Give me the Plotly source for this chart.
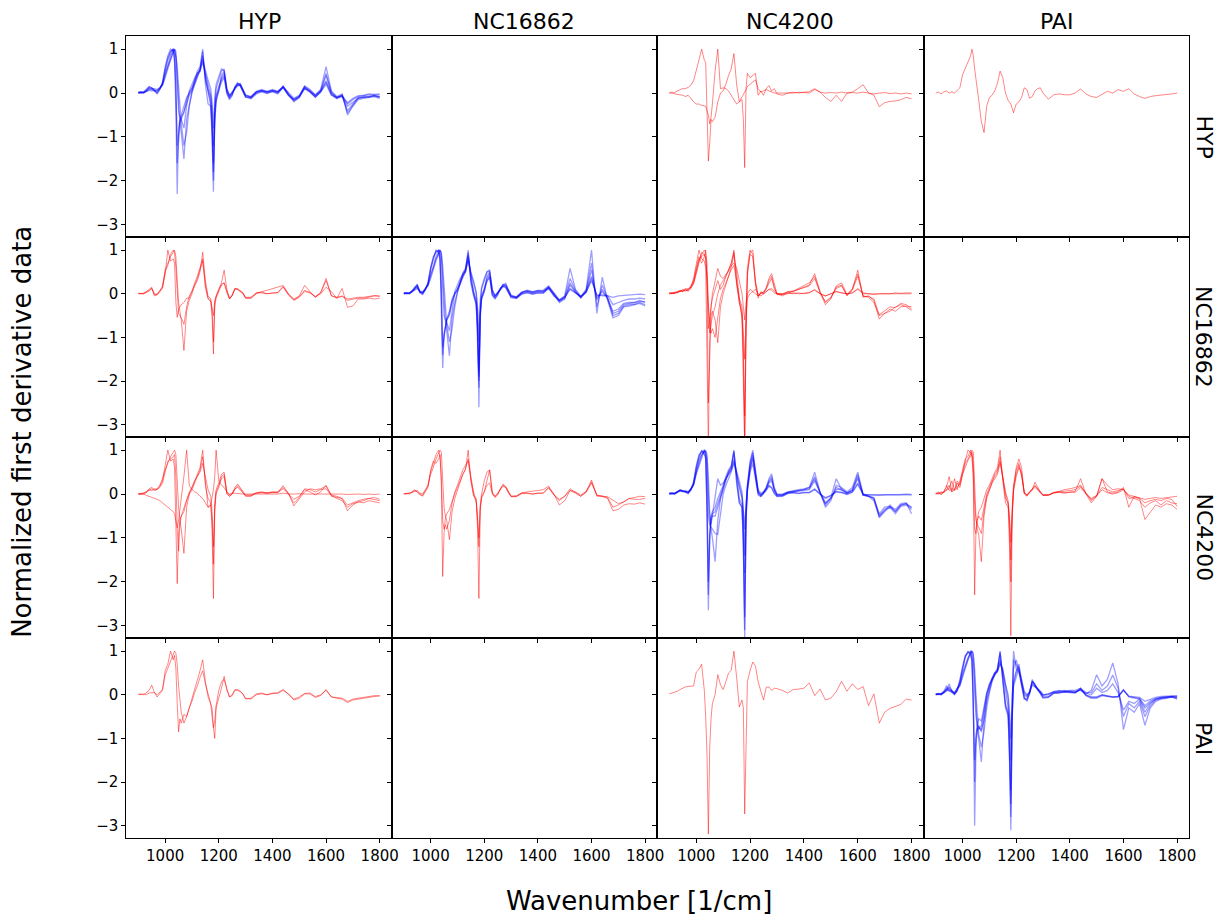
import plotly.graph_objects as go
from plotly.subplots import make_subplots

CLASSES = ["HYP", "NC16862", "NC4200", "PAI"]

WAVENUMBER = [
    900, 910, 920, 930, 940, 950, 960, 970, 980, 990,
    1000, 1010, 1020, 1030, 1035, 1040, 1045, 1050, 1055, 1060,
    1070, 1080, 1090, 1100, 1110, 1120, 1130, 1140, 1150, 1160, 1170,
    1175, 1180, 1185, 1190,
    1200, 1210, 1220, 1230, 1240, 1250, 1260, 1270, 1280, 1290, 1300,
    1320, 1340, 1360, 1380, 1400, 1420, 1440, 1460, 1480, 1500, 1520, 1540,
    1560, 1580, 1600, 1620, 1640, 1660, 1680, 1700, 1720, 1740, 1760, 1780, 1800,
]

X_TICKS = [1000, 1200, 1400, 1600, 1800]
Y_TICKS = [-3, -2, -1, 0, 1]

# ---- true HYP -------------------------------------------------------------
hyp_hyp = [
    [0.00, 0.02, 0.00, 0.05, 0.12, 0.10, 0.08, 0.05, 0.10, 0.20,
     0.50, 0.75, 0.92, 1.00, 0.80, -0.40, -2.30, -0.80, -0.60, -0.50,
     -0.30, -0.10, 0.00, 0.10, 0.25, 0.45, 0.50, 0.95, 0.30, 0.05, -0.20,
     -0.90, -2.25, -0.60, -0.10,
     0.10, 0.35, 0.45, 0.00, -0.12, -0.04, 0.15, 0.23, 0.19, 0.04, -0.08,
     -0.12, 0.00, 0.04, 0.00, 0.04, 0.00, 0.15, -0.04, -0.15, -0.08, 0.12, 0.04, -0.08, 0.04, 0.28, -0.02, -0.12, -0.05, -0.25, -0.15, -0.08, -0.06, -0.04, -0.04, -0.04],
    [0.02, 0.00, 0.03, 0.08, 0.15, 0.12, 0.05, -0.02, 0.08, 0.25,
     0.60, 0.85, 1.00, 0.95, 0.70, 0.10, -1.20, -0.95, -0.70, -0.60,
     -0.40, -0.20, -0.05, 0.05, 0.20, 0.40, 0.55, 0.85, 0.40, 0.10, -0.10,
     -0.60, -1.60, -0.40, -0.05,
     0.15, 0.30, 0.40, 0.05, -0.10, -0.02, 0.12, 0.20, 0.16, 0.02, -0.10,
     -0.10, 0.02, 0.05, 0.02, 0.05, 0.02, 0.12, -0.06, -0.18, -0.10, 0.10, 0.02, -0.10, 0.02, 0.20, -0.05, -0.10, -0.08, -0.30, -0.20, -0.12, -0.10, -0.08, -0.06, -0.08],
    [0.00, 0.00, 0.02, 0.04, 0.08, 0.10, 0.10, 0.08, 0.12, 0.22,
     0.45, 0.60, 0.75, 0.90, 1.00, 0.95, 0.40, -0.30, -0.70, -0.90,
     -1.50, -0.60, -0.25, 0.05, 0.30, 0.40, 0.55, 0.80, 0.35, 0.00, -0.30,
     -0.70, -1.80, -0.50, -0.15,
     0.05, 0.40, 0.50, 0.05, -0.08, 0.00, 0.12, 0.22, 0.20, 0.06, -0.05,
     -0.10, 0.03, 0.06, 0.02, 0.06, 0.03, 0.16, -0.02, -0.20, -0.10, 0.15, 0.06, -0.05, 0.06, 0.45, 0.00, -0.10, -0.06, -0.40, -0.25, -0.12, -0.08, -0.10, -0.06, -0.10],
    [0.00, 0.03, 0.02, 0.06, 0.10, 0.08, 0.04, 0.02, 0.10, 0.18,
     0.40, 0.65, 0.85, 1.00, 0.98, 0.80, 0.20, -0.40, -0.55, -0.60,
     -0.80, -0.30, 0.05, 0.20, 0.35, 0.45, 0.50, 0.70, 0.45, 0.20, -0.05,
     -0.35, -1.20, -0.30, 0.10,
     0.30, 0.50, 0.55, 0.10, -0.05, 0.02, 0.10, 0.18, 0.22, 0.08, -0.04,
     -0.08, 0.04, 0.08, 0.04, 0.08, 0.04, 0.14, 0.00, -0.12, -0.05, 0.16, 0.08, -0.04, 0.08, 0.60, 0.05, -0.08, -0.02, -0.50, -0.30, -0.15, -0.12, -0.10, -0.08, -0.12],
    [0.03, 0.01, 0.00, 0.05, 0.14, 0.12, 0.06, 0.00, 0.08, 0.22,
     0.55, 0.80, 0.95, 1.00, 0.90, 0.30, -1.60, -1.00, -0.65, -0.55,
     -0.45, -0.15, 0.02, 0.12, 0.28, 0.50, 0.60, 1.00, 0.20, -0.25, -0.30,
     -1.00, -2.00, -0.70, -0.20,
     0.05, 0.25, 0.35, -0.02, -0.15, -0.06, 0.13, 0.20, 0.17, 0.03, -0.09,
     -0.13, -0.02, 0.03, -0.01, 0.03, -0.02, 0.13, -0.05, -0.16, -0.09, 0.11, 0.03, -0.09, 0.03, 0.25, -0.04, -0.13, -0.07, -0.22, -0.12, -0.06, -0.05, -0.02, -0.03, -0.02],
    [0.01, 0.02, 0.01, 0.03, 0.06, 0.05, 0.05, 0.06, 0.12, 0.18,
     0.35, 0.55, 0.80, 0.95, 1.00, 0.85, 0.60, 0.10, -0.40, -0.70,
     -1.20, -0.90, -0.30, 0.00, 0.20, 0.35, 0.50, 0.75, 0.50, 0.30, 0.10,
     -0.20, -0.80, -0.10, 0.20,
     0.40, 0.55, 0.50, 0.10, -0.06, 0.02, 0.10, 0.16, 0.18, 0.06, -0.06,
     -0.09, 0.02, 0.06, 0.03, 0.06, 0.02, 0.14, -0.03, -0.14, -0.07, 0.14, 0.05, -0.06, 0.05, 0.40, 0.02, -0.10, -0.04, -0.45, -0.28, -0.10, -0.10, -0.08, -0.06, -0.09],
]

hyp_nc4200 = [
    [0.00, 0.02, 0.01, 0.05, 0.08, 0.10, 0.10, 0.13, 0.18, 0.28,
     0.55, 0.75, 1.00, 0.75, 0.70, -0.40, -1.55, -1.15, -0.60, -0.65,
     -0.55, -0.20, 0.00, 0.05, 0.20, 0.40, 0.55, 0.90, 0.20, -0.20, -0.15,
     -0.60, -1.70, 0.10, 0.45,
     0.35, 0.40, 0.45, -0.05, 0.05, -0.05, 0.10, 0.17, 0.05, 0.10, -0.02,
     -0.05, 0.00, 0.02, 0.00, 0.02, 0.03, 0.10, 0.02, -0.10, -0.19, -0.05, -0.19, 0.00, 0.02, 0.10, 0.19, 0.00, -0.05, -0.31, -0.22, -0.19, -0.18, -0.15, -0.10, -0.13],
    [0.00, 0.00, -0.02, -0.03, -0.05, -0.05, -0.08, -0.05, -0.12, -0.20,
     -0.25, -0.25, -0.28, -0.30, -0.30, -0.40, -0.50, -0.70, -0.55, -0.25,
     0.50, 1.00, 0.10, 0.12, 0.10, 0.05, -0.05, -0.15, -0.25, -0.20, -0.10,
     -0.05, 0.00, 0.08, 0.15,
     0.20, 0.25, 0.30, 0.10, 0.02, 0.05, 0.08, 0.05, 0.02, 0.00, 0.00,
     0.00, 0.01, 0.00, 0.02, 0.01, 0.00, 0.08, 0.02, 0.00, 0.01, 0.00, 0.02, 0.00, 0.01, 0.00, 0.02, 0.00, -0.02, 0.00, 0.01, -0.01, 0.00, -0.02, 0.00, -0.02],
]

hyp_pai = [
    [0.00, 0.02, -0.02, 0.03, 0.05, 0.00, 0.03, 0.00, 0.06, 0.12,
     0.42, 0.55, 0.70, 0.85, 1.00, 0.85, 0.55, 0.35, 0.10, -0.15,
     -0.65, -0.90, -0.30, -0.10, -0.05, 0.05, 0.22, 0.50, 0.35, 0.00, -0.17,
     -0.20, -0.25, -0.35, -0.45,
     -0.25, -0.20, -0.10, 0.12, 0.08, -0.12, -0.08, 0.05, 0.10, 0.12, 0.00,
     -0.14, -0.04, -0.02, -0.04, -0.04, 0.00, 0.09, -0.02, -0.08, -0.10, -0.02, 0.04, 0.00, 0.08, 0.04, 0.10, -0.02, -0.08, -0.12, -0.08, -0.06, -0.05, -0.03, -0.02, 0.00],
]

# ---- true NC16862 ---------------------------------------------------------
nc16862_hyp = [
    [0.00, 0.00, 0.02, 0.05, 0.10, 0.15, -0.05, -0.02, 0.05, 0.12,
     0.45, 1.00, 0.75, 0.80, 0.70, -0.20, -0.54, -0.35, -0.30, -0.25,
     -0.20, -0.10, -0.10, 0.05, 0.25, 0.40, 0.60, 0.80, 0.20, -0.10, -0.15,
     -0.30, -0.50, -0.15, -0.05,
     0.10, 0.25, 0.54, 0.10, -0.12, -0.02, 0.12, 0.10, 0.05, 0.00, -0.10,
     -0.10, 0.00, 0.05, 0.08, 0.12, 0.15, 0.19, 0.00, -0.12, -0.05, 0.19, 0.05, -0.08, 0.00, 0.15, 0.05, -0.10, 0.12, -0.31, -0.28, -0.12, -0.12, -0.10, -0.12, -0.10],
    [0.02, 0.00, 0.00, 0.04, 0.08, 0.12, -0.02, 0.00, 0.08, 0.15,
     0.55, 0.70, 0.85, 0.95, 1.00, 0.85, 0.20, -0.20, -0.40, -0.60,
     -1.30, -0.40, -0.15, 0.00, 0.20, 0.35, 0.55, 0.75, 0.15, -0.12, -0.18,
     -0.50, -1.38, -0.30, -0.10,
     0.05, 0.20, 0.25, 0.05, -0.10, -0.05, 0.10, 0.12, 0.08, 0.02, -0.08,
     -0.08, 0.02, 0.02, 0.00, 0.02, 0.02, 0.15, -0.03, -0.15, -0.08, 0.05, 0.02, -0.06, 0.03, 0.35, -0.05, -0.08, -0.05, -0.12, -0.10, -0.08, -0.08, -0.06, -0.04, -0.05],
    [0.00, 0.01, 0.00, 0.03, 0.06, 0.12, 0.00, -0.03, 0.05, 0.18,
     0.50, 0.65, 0.90, 1.00, 0.95, 0.60, -0.10, -0.45, -0.50, -0.55,
     -0.70, -0.30, -0.05, 0.05, 0.18, 0.30, 0.50, 0.95, 0.30, -0.05, -0.12,
     -0.40, -1.10, -0.20, -0.05,
     0.10, 0.22, 0.25, 0.02, -0.12, -0.04, 0.12, 0.10, 0.06, 0.02, -0.10,
     -0.10, 0.02, 0.04, 0.00, 0.02, 0.03, 0.17, -0.02, -0.14, -0.07, 0.08, 0.03, -0.08, 0.02, 0.30, -0.04, -0.10, -0.06, -0.15, -0.12, -0.10, -0.10, -0.08, -0.05, -0.06],
]

nc16862_nc16862 = [
    [0.00, 0.02, 0.00, 0.05, 0.15, 0.20, 0.05, 0.02, 0.10, 0.25,
     0.60, 0.85, 0.95, 1.00, 0.85, -0.20, -1.70, -0.90, -0.70, -0.60,
     -0.45, -0.15, 0.00, 0.08, 0.22, 0.45, 0.55, 1.00, 0.30, 0.00, -0.20,
     -0.90, -2.15, -0.50, -0.10,
     0.08, 0.30, 0.40, -0.02, -0.10, -0.02, 0.12, 0.18, 0.15, 0.02, -0.08,
     -0.10, 0.00, 0.03, 0.00, 0.02, 0.02, 0.12, -0.04, -0.15, -0.08, 0.10, 0.02, -0.06, 0.04, 0.35, -0.05, -0.02, -0.05, -0.08, -0.05, -0.04, -0.02, -0.02, -0.01, -0.02],
    [0.02, 0.00, 0.02, 0.06, 0.12, 0.18, 0.02, -0.02, 0.08, 0.20,
     0.55, 0.80, 1.00, 0.95, 0.75, 0.10, -1.23, -1.00, -0.75, -0.60,
     -0.50, -0.20, -0.02, 0.10, 0.25, 0.40, 0.50, 0.90, 0.35, 0.05, -0.15,
     -0.70, -1.80, -0.40, -0.05,
     0.12, 0.35, 0.45, 0.00, -0.08, 0.00, 0.10, 0.20, 0.18, 0.05, -0.06,
     -0.08, 0.02, 0.05, 0.02, 0.04, 0.04, 0.14, -0.02, -0.18, -0.10, 0.20, 0.04, -0.08, 0.05, 0.40, -0.10, 0.05, -0.10, -0.40, -0.35, -0.22, -0.20, -0.20, -0.18, -0.18],
    [0.00, 0.01, 0.01, 0.04, 0.10, 0.22, 0.05, 0.00, 0.10, 0.22,
     0.45, 0.60, 0.80, 0.90, 1.00, 0.95, 0.40, -0.20, -0.60, -0.85,
     -1.42, -0.55, -0.20, 0.05, 0.30, 0.42, 0.55, 0.85, 0.40, 0.05, -0.25,
     -0.75, -1.90, -0.45, -0.10,
     0.05, 0.40, 0.50, 0.05, -0.06, 0.02, 0.12, 0.22, 0.20, 0.06, -0.05,
     -0.09, 0.03, 0.06, 0.03, 0.06, 0.05, 0.15, -0.01, -0.20, -0.12, 0.25, 0.05, -0.10, 0.06, 0.55, -0.15, 0.10, -0.12, -0.45, -0.40, -0.25, -0.22, -0.20, -0.15, -0.20],
    [0.00, 0.03, 0.02, 0.05, 0.10, 0.15, 0.03, 0.03, 0.12, 0.20,
     0.40, 0.65, 0.85, 1.00, 0.98, 0.75, 0.00, -0.50, -0.60, -0.65,
     -0.85, -0.35, 0.05, 0.20, 0.35, 0.45, 0.50, 0.75, 0.45, 0.25, 0.00,
     -0.40, -2.60, -0.30, 0.10,
     0.30, 0.50, 0.55, 0.10, -0.04, 0.03, 0.10, 0.20, 0.24, 0.10, -0.03,
     -0.07, 0.04, 0.08, 0.05, 0.08, 0.08, 0.18, 0.02, -0.14, -0.05, 0.58, 0.10, -0.06, 0.10, 1.00, -0.45, 0.38, -0.15, -0.55, -0.50, -0.30, -0.28, -0.25, -0.22, -0.28],
    [0.03, 0.01, 0.00, 0.05, 0.13, 0.18, 0.04, 0.01, 0.09, 0.24,
     0.58, 0.82, 0.98, 0.98, 0.80, 0.00, -1.40, -0.95, -0.72, -0.58,
     -0.40, -0.12, 0.02, 0.10, 0.25, 0.48, 0.58, 0.95, 0.25, -0.05, -0.25,
     -1.00, -2.00, -0.55, -0.12,
     0.05, 0.28, 0.38, -0.04, -0.12, -0.03, 0.13, 0.17, 0.14, 0.01, -0.09,
     -0.11, -0.01, 0.02, -0.01, 0.02, 0.01, 0.13, -0.05, -0.16, -0.09, 0.12, 0.02, -0.07, 0.03, 0.30, -0.02, -0.05, -0.04, -0.25, -0.20, -0.15, -0.12, -0.12, -0.10, -0.12],
    [0.01, 0.02, 0.01, 0.04, 0.08, 0.12, 0.06, 0.05, 0.12, 0.18,
     0.35, 0.55, 0.80, 0.95, 1.00, 0.90, 0.65, 0.15, -0.35, -0.70,
     -1.10, -0.80, -0.30, 0.02, 0.22, 0.38, 0.52, 0.80, 0.50, 0.30, 0.05,
     -0.30, -1.10, -0.15, 0.15,
     0.35, 0.50, 0.52, 0.08, -0.05, 0.02, 0.10, 0.16, 0.20, 0.08, -0.05,
     -0.08, 0.03, 0.07, 0.04, 0.07, 0.06, 0.16, 0.00, -0.15, -0.06, 0.35, 0.08, -0.08, 0.08, 0.70, -0.30, 0.20, -0.10, -0.50, -0.45, -0.28, -0.25, -0.24, -0.20, -0.25],
]

nc16862_nc4200 = [
    [0.00, 0.03, 0.00, 0.05, 0.08, 0.05, 0.10, 0.12, 0.15, 0.35,
     0.70, 1.00, 0.80, 0.75, 0.60, -1.50, -3.50, -1.00, -0.30, -0.10,
     0.10, 0.30, 0.10, 0.20, 0.40, 0.55, 0.70, 1.00, 0.30, -0.20, -0.40,
     -1.50, -3.50, -0.80, 0.60,
     1.00, 0.90, 0.20, -0.10, 0.05, 0.00, 0.15, 0.35, 0.46, 0.20, 0.00,
     -0.05, 0.02, 0.05, 0.10, 0.15, 0.20, 0.46, 0.05, -0.20, -0.10, 0.15, 0.20, -0.05, 0.10, 0.54, -0.08, -0.05, -0.15, -0.58, -0.45, -0.40, -0.30, -0.25, -0.30, -0.38],
    [0.02, 0.00, 0.04, 0.02, 0.06, 0.08, 0.12, 0.08, 0.18, 0.30,
     0.60, 0.85, 0.70, 0.85, 1.00, 0.20, -2.50, -1.20, -0.50, -0.40,
     -0.60, -1.12, -0.30, 0.00, 0.20, 0.40, 0.60, 0.90, 0.50, -0.10, -0.60,
     -2.00, -3.50, -1.00, 0.40,
     0.95, 1.00, 0.30, -0.05, 0.00, 0.05, 0.10, 0.30, 0.40, 0.15, -0.02,
     -0.02, 0.05, 0.06, 0.12, 0.18, 0.25, 0.40, 0.02, -0.25, -0.12, 0.18, 0.25, -0.02, 0.12, 0.45, -0.05, -0.08, -0.20, -0.50, -0.45, -0.35, -0.40, -0.30, -0.28, -0.30],
    [0.00, 0.02, 0.02, 0.04, 0.05, 0.06, 0.08, 0.06, 0.12, 0.25,
     0.50, 0.80, 0.85, 0.90, 0.80, 0.40, -0.80, -0.60, -0.30, 0.00,
     0.30, 0.58, 0.40, 0.35, 0.45, 0.50, 0.65, 0.70, 0.60, 0.30, 0.00,
     -0.30, -0.60, -0.20, 0.00,
     0.10, 0.05, 0.00, -0.05, 0.02, 0.00, 0.05, 0.10, 0.12, 0.05, 0.00,
     0.00, 0.02, 0.00, 0.02, 0.00, 0.02, 0.10, 0.00, -0.05, 0.00, 0.05, 0.02, 0.00, 0.02, 0.10, 0.00, 0.00, 0.00, 0.00, 0.01, 0.00, 0.02, 0.01, 0.02, 0.02],
    [0.03, 0.00, 0.02, 0.06, 0.05, 0.10, 0.06, 0.10, 0.15, 0.28,
     0.55, 0.75, 0.90, 1.00, 0.95, 0.70, -0.20, -0.70, -0.90, -0.80,
     -1.00, -0.50, -0.10, 0.10, 0.25, 0.40, 0.55, 0.65, 0.30, -0.10, -0.30,
     -0.80, -1.50, -0.50, -0.10,
     0.00, 0.05, 0.10, 0.00, -0.05, 0.00, 0.05, 0.10, 0.08, 0.02, 0.00,
     -0.02, 0.00, 0.02, 0.00, 0.02, 0.03, 0.08, 0.00, -0.05, 0.00, 0.05, 0.02, 0.00, 0.02, 0.12, 0.02, 0.00, -0.02, 0.00, 0.00, 0.01, 0.00, 0.00, 0.01, 0.00],
    [0.00, 0.01, 0.03, 0.03, 0.07, 0.06, 0.09, 0.07, 0.14, 0.22,
     0.45, 0.70, 0.95, 0.90, 0.85, 0.30, -0.50, -0.90, -0.70, -0.50,
     -0.30, 0.00, 0.20, 0.30, 0.40, 0.55, 0.70, 0.95, 0.20, -0.20, -0.50,
     -1.20, -2.80, -0.60, 0.50,
     0.90, 0.85, 0.25, -0.05, 0.02, 0.03, 0.12, 0.25, 0.35, 0.12, 0.00,
     0.00, 0.04, 0.06, 0.10, 0.14, 0.18, 0.35, 0.03, -0.18, -0.08, 0.12, 0.18, -0.03, 0.08, 0.40, -0.06, -0.06, -0.12, -0.48, -0.40, -0.30, -0.32, -0.22, -0.25, -0.35],
]

# ---- true NC4200 ----------------------------------------------------------
nc4200_hyp = [
    [0.00, 0.00, 0.02, 0.05, 0.10, 0.08, 0.12, 0.10, 0.18, 0.30,
     0.65, 1.00, 0.75, 0.80, 0.60, -0.50, -2.04, -0.90, -0.60, -0.50,
     -0.30, -0.10, 0.05, 0.15, 0.30, 0.45, 0.60, 1.00, 0.20, -0.10, -0.20,
     -0.80, -2.38, -0.40, 0.00,
     0.15, 0.40, 0.45, 0.00, -0.05, 0.00, 0.10, 0.19, 0.12, 0.02, -0.05,
     -0.05, 0.02, 0.03, 0.02, 0.03, 0.04, 0.19, 0.00, -0.12, -0.05, 0.10, 0.05, -0.02, 0.05, 0.20, -0.02, -0.05, -0.10, -0.38, -0.25, -0.18, -0.15, -0.10, -0.12, -0.15],
    [0.00, 0.01, 0.00, 0.03, 0.12, 0.15, 0.10, 0.12, 0.20, 0.35,
     0.55, 0.70, 0.85, 0.95, 1.00, 0.90, 0.10, -0.30, -0.60, -0.80,
     -1.35, -0.30, 0.00, 0.15, 0.30, 0.40, 0.50, 0.70, 0.40, 0.10, -0.05,
     -0.40, -1.20, -0.20, 0.10,
     0.25, 0.45, 0.50, 0.05, -0.02, 0.02, 0.15, 0.23, 0.15, 0.05, -0.02,
     -0.02, 0.03, 0.05, 0.03, 0.05, 0.05, 0.15, 0.02, -0.27, -0.10, 0.05, 0.12, 0.10, 0.12, 0.18, -0.05, -0.08, -0.10, -0.25, -0.20, -0.15, -0.12, -0.10, -0.08, -0.12],
    [0.00, 0.00, 0.00, -0.03, -0.05, -0.08, -0.10, -0.12, -0.15, -0.20,
     -0.25, -0.30, -0.35, -0.40, -0.45, -0.60, -0.77, -0.60, -0.40, -0.10,
     0.40, 1.00, 0.20, 0.10, 0.05, 0.02, -0.05, -0.10, -0.20, -0.30, -0.25,
     -0.10, 0.10, 0.40, 1.00,
     0.30, 0.20, 0.15, 0.05, 0.00, 0.02, 0.02, 0.01, 0.00, 0.00, 0.00,
     0.00, 0.01, 0.00, 0.00, 0.01, 0.00, 0.02, 0.00, 0.00, 0.01, 0.00, 0.00, 0.01, 0.00, 0.00, 0.00, 0.00, 0.00, -0.01, 0.00, 0.00, -0.01, 0.00, -0.01, 0.00],
    [0.02, 0.00, 0.03, 0.05, 0.08, 0.12, 0.08, 0.10, 0.15, 0.25,
     0.50, 0.75, 0.80, 0.85, 0.90, 0.40, -0.80, -1.30, -0.70, -0.50,
     -0.40, -0.15, 0.00, 0.10, 0.25, 0.40, 0.55, 0.85, 0.30, -0.30, -0.25,
     -0.60, -1.60, -0.30, 0.05,
     0.20, 0.35, 0.40, 0.02, -0.05, 0.00, 0.12, 0.15, 0.10, 0.03, -0.04,
     -0.04, 0.02, 0.04, 0.02, 0.04, 0.03, 0.12, 0.00, -0.20, -0.08, 0.12, 0.10, 0.05, 0.10, 0.12, -0.03, -0.10, -0.15, -0.30, -0.22, -0.18, -0.20, -0.15, -0.18, -0.20],
]

nc4200_nc16862 = [
    [0.00, 0.02, 0.00, 0.04, 0.08, 0.06, 0.00, -0.05, 0.05, 0.15,
     0.55, 0.75, 0.70, 0.80, 0.90, 0.20, -1.88, -0.90, -0.55, -0.45,
     -0.35, -0.15, 0.00, 0.15, 0.30, 0.45, 0.55, 1.00, 0.30, -0.05, -0.10,
     -0.80, -2.38, -0.40, -0.05,
     0.05, 0.30, 0.55, 0.00, -0.05, 0.00, 0.10, 0.23, 0.18, 0.05, -0.05,
     -0.05, 0.02, 0.02, 0.00, 0.02, 0.02, 0.15, -0.02, -0.15, -0.05, 0.12, 0.03, -0.05, 0.05, 0.32, -0.05, -0.05, -0.10, -0.38, -0.35, -0.25, -0.22, -0.23, -0.20, -0.23],
    [0.02, 0.00, 0.02, 0.05, 0.10, 0.05, -0.02, -0.03, 0.08, 0.18,
     0.45, 0.60, 0.80, 0.95, 1.00, 0.95, 0.30, -0.30, -0.50, -0.60,
     -1.04, -0.40, -0.10, 0.10, 0.30, 0.45, 0.58, 0.80, 0.40, 0.05, -0.15,
     -0.50, -1.20, -0.30, -0.10,
     0.05, 0.20, 0.25, 0.02, -0.08, -0.02, 0.12, 0.20, 0.15, 0.02, -0.06,
     -0.06, 0.01, 0.02, 0.00, 0.02, 0.02, 0.14, -0.02, -0.12, -0.05, 0.08, 0.02, -0.05, 0.04, 0.25, -0.02, -0.06, -0.06, -0.15, -0.22, -0.18, -0.10, -0.08, -0.05, -0.06],
    [0.00, 0.01, 0.03, 0.03, 0.06, 0.08, 0.02, 0.00, 0.10, 0.20,
     0.50, 0.70, 0.90, 1.00, 0.85, 0.40, -0.60, -0.80, -0.70, -0.80,
     -0.60, -0.20, 0.05, 0.20, 0.40, 0.55, 0.65, 0.75, 0.35, 0.00, -0.20,
     -0.60, -1.00, -0.25, 0.00,
     0.30, 0.50, 0.55, 0.05, -0.06, 0.02, 0.12, 0.18, 0.15, 0.04, -0.05,
     -0.04, 0.03, 0.05, 0.06, 0.08, 0.10, 0.18, 0.00, -0.25, -0.15, 0.08, 0.05, -0.02, 0.06, 0.28, -0.03, -0.04, -0.08, -0.30, -0.25, -0.18, -0.10, -0.12, -0.12, -0.10],
]

nc4200_nc4200 = [
    [0.00, 0.02, 0.00, 0.05, 0.10, 0.08, 0.05, 0.02, 0.10, 0.25,
     0.60, 0.85, 1.00, 0.90, 0.85, -0.50, -2.65, -1.00, -0.50, -0.40,
     -0.30, -0.10, 0.05, 0.20, 0.40, 0.55, 0.65, 1.00, 0.30, -0.20, -0.30,
     -1.20, -3.30, -0.60, 0.10,
     0.60, 0.80, 0.40, 0.00, -0.05, 0.02, 0.10, 0.20, 0.15, 0.02, -0.05,
     -0.04, 0.02, 0.04, 0.02, 0.04, 0.04, 0.12, 0.00, -0.08, -0.03, 0.06, 0.04, 0.00, 0.05, 0.25, 0.00, -0.02, -0.02, -0.02, -0.02, -0.02, -0.01, -0.01, 0.00, -0.01],
    [0.02, 0.00, 0.02, 0.06, 0.08, 0.06, 0.08, 0.05, 0.12, 0.28,
     0.65, 0.90, 0.95, 1.00, 0.90, 0.00, -2.00, -0.95, -0.55, -0.45,
     -0.40, -0.20, 0.00, 0.15, 0.35, 0.50, 0.60, 0.95, 0.40, -0.10, -0.25,
     -1.00, -2.80, -0.50, 0.20,
     0.70, 0.95, 0.50, 0.05, -0.02, 0.04, 0.15, 0.30, 0.40, 0.10, -0.02,
     -0.02, 0.04, 0.06, 0.08, 0.10, 0.12, 0.40, 0.02, -0.25, -0.10, 0.10, 0.12, 0.02, 0.10, 0.45, -0.02, -0.05, -0.10, -0.50, -0.35, -0.30, -0.40, -0.25, -0.22, -0.30],
    [0.00, 0.01, 0.01, 0.04, 0.07, 0.05, 0.06, 0.04, 0.10, 0.22,
     0.50, 0.75, 0.90, 0.95, 1.00, 0.90, 0.40, -0.40, -0.70, -0.50,
     -0.10, 0.35, 0.20, 0.25, 0.35, 0.45, 0.55, 0.75, 0.55, 0.30, 0.05,
     -0.30, -0.80, -0.20, 0.20,
     0.75, 1.00, 0.55, 0.10, 0.02, 0.05, 0.15, 0.35, 0.46, 0.15, 0.00,
     0.00, 0.05, 0.08, 0.10, 0.12, 0.15, 0.50, 0.05, -0.30, -0.15, 0.20, 0.15, 0.05, 0.15, 0.50, 0.00, -0.05, -0.15, -0.54, -0.40, -0.30, -0.45, -0.28, -0.25, -0.35],
    [0.00, 0.03, 0.02, 0.05, 0.09, 0.07, 0.05, 0.03, 0.12, 0.20,
     0.45, 0.65, 0.85, 1.00, 0.95, 0.80, 0.00, -0.60, -0.80, -1.00,
     -1.54, -0.60, -0.10, 0.15, 0.35, 0.45, 0.55, 0.80, 0.45, 0.15, -0.10,
     -0.50, -1.80, -0.40, 0.10,
     0.55, 0.85, 0.50, 0.05, -0.02, 0.03, 0.12, 0.28, 0.35, 0.10, -0.02,
     -0.02, 0.04, 0.06, 0.08, 0.10, 0.15, 0.35, 0.04, -0.20, -0.08, 0.35, 0.10, 0.03, 0.08, 0.35, -0.02, -0.05, -0.10, -0.45, -0.30, -0.28, -0.35, -0.22, -0.20, -0.45],
    [0.03, 0.01, 0.00, 0.05, 0.09, 0.07, 0.04, 0.01, 0.09, 0.24,
     0.58, 0.82, 0.98, 0.92, 0.80, -0.30, -2.30, -0.92, -0.60, -0.50,
     -0.50, -0.30, -0.05, 0.12, 0.32, 0.50, 0.62, 0.98, 0.25, -0.20, -0.30,
     -1.10, -3.10, -0.55, 0.05,
     0.50, 0.70, 0.35, -0.02, -0.06, 0.01, 0.08, 0.18, 0.14, 0.01, -0.06,
     -0.05, 0.01, 0.03, 0.01, 0.03, 0.03, 0.10, -0.01, -0.10, -0.04, 0.05, 0.03, -0.01, 0.04, 0.22, -0.01, -0.02, -0.03, -0.03, -0.02, -0.02, -0.02, -0.01, -0.01, -0.02],
    [0.01, 0.02, 0.01, 0.04, 0.08, 0.06, 0.06, 0.05, 0.11, 0.21,
     0.50, 0.70, 0.88, 0.98, 0.95, 0.60, -0.50, -0.70, -0.75, -0.80,
     -0.90, -0.92, -0.40, 0.00, 0.20, 0.35, 0.50, 0.70, 0.45, 0.20, -0.05,
     -0.40, -1.40, -0.30, 0.15,
     0.65, 0.90, 0.45, 0.05, -0.03, 0.03, 0.12, 0.25, 0.30, 0.08, -0.03,
     -0.03, 0.03, 0.05, 0.06, 0.08, 0.10, 0.30, 0.02, -0.22, -0.10, 0.15, 0.08, 0.02, 0.08, 0.40, -0.03, -0.04, -0.08, -0.50, -0.38, -0.25, -0.40, -0.25, -0.22, -0.32],
]

nc4200_pai = [
    [0.00, 0.05, -0.02, 0.08, 0.15, 0.40, 0.05, 0.35, 0.10, 0.30,
     0.55, 0.80, 0.85, 1.00, 0.90, 0.30, -2.30, -0.80, -0.60, -0.40,
     -0.30, -0.10, 0.10, 0.20, 0.35, 0.50, 0.60, 1.00, 0.30, -0.20, -0.30,
     -1.20, -3.23, -0.60, 0.10,
     0.60, 0.80, 0.60, 0.00, -0.05, 0.05, 0.10, 0.27, 0.15, 0.05, -0.02,
     -0.02, 0.04, 0.05, 0.03, 0.05, 0.06, 0.35, 0.00, -0.20, -0.05, 0.35, 0.05, 0.02, 0.05, 0.15, -0.30, -0.05, -0.10, -0.58, -0.40, -0.25, -0.30, -0.22, -0.25, -0.35],
    [0.02, 0.00, 0.05, 0.03, 0.20, 0.08, 0.12, 0.10, 0.25, 0.15,
     0.45, 0.60, 0.75, 0.90, 1.00, 0.95, 0.20, -0.50, -0.80, -0.92,
     -1.54, -0.50, -0.10, 0.10, 0.30, 0.45, 0.55, 0.75, 0.40, 0.00, -0.25,
     -0.60, -1.50, -0.30, 0.20,
     0.55, 0.70, 0.45, 0.05, -0.02, 0.04, 0.12, 0.20, 0.12, 0.03, -0.03,
     -0.03, 0.03, 0.06, 0.10, 0.12, 0.15, 0.20, 0.02, -0.15, -0.05, 0.35, 0.20, 0.10, 0.12, 0.10, -0.05, -0.10, -0.15, -0.30, -0.20, -0.15, -0.25, -0.15, -0.20, -0.22],
    [0.01, 0.03, 0.00, 0.06, 0.10, 0.12, 0.30, 0.08, 0.15, 0.25,
     0.50, 0.75, 1.00, 0.95, 0.85, 0.50, -0.80, -0.90, -0.60, -0.50,
     -0.60, -0.30, 0.00, 0.15, 0.30, 0.40, 0.50, 0.85, 0.40, -0.10, -0.20,
     -0.80, -2.00, -0.40, 0.05,
     0.40, 0.60, 0.50, 0.02, -0.04, 0.03, 0.08, 0.15, 0.10, 0.02, -0.03,
     -0.02, 0.02, 0.04, 0.02, 0.04, 0.04, 0.15, 0.00, -0.12, -0.04, 0.10, 0.03, 0.00, 0.03, 0.10, -0.02, -0.05, -0.08, -0.12, -0.10, -0.08, -0.10, -0.08, -0.06, -0.05],
    [0.00, 0.02, 0.03, 0.04, 0.08, 0.20, 0.05, 0.10, 0.30, 0.20,
     0.45, 0.70, 0.80, 0.85, 0.95, 0.70, -0.20, -0.60, -0.70, -0.75,
     -0.90, -0.40, -0.05, 0.10, 0.25, 0.35, 0.45, 0.70, 0.35, 0.05, -0.15,
     -0.50, -1.10, -0.25, 0.15,
     0.45, 0.65, 0.40, 0.03, -0.02, 0.04, 0.10, 0.18, 0.12, 0.04, -0.02,
     -0.02, 0.03, 0.05, 0.06, 0.08, 0.10, 0.18, 0.02, -0.10, -0.03, 0.15, 0.10, 0.05, 0.08, 0.12, -0.10, -0.08, -0.10, -0.20, -0.15, -0.12, -0.15, -0.10, -0.12, -0.28],
]

# ---- true PAI -------------------------------------------------------------
pai_hyp = [
    [0.00, 0.02, 0.00, 0.05, 0.10, 0.22, 0.05, -0.05, 0.02, 0.10,
     0.55, 0.70, 1.00, 0.80, 0.90, 0.60, -0.20, -0.85, -0.55, -0.65,
     -0.45, -0.50, -0.30, -0.15, 0.05, 0.20, 0.40, 0.55, 0.25, 0.00, -0.20,
     -0.50, -0.80, -1.00, -0.30,
     -0.10, 0.15, 0.42, 0.10, -0.05, 0.00, 0.12, 0.10, 0.08, 0.02, -0.10,
     -0.08, 0.02, 0.04, 0.00, 0.04, 0.03, 0.10, 0.02, -0.12, -0.08, 0.02, 0.02, -0.06, -0.02, 0.12, -0.05, -0.08, -0.10, -0.18, -0.12, -0.10, -0.08, -0.05, -0.04, -0.02],
    [0.02, 0.00, 0.02, 0.00, 0.04, 0.05, 0.05, 0.00, 0.05, 0.12,
     0.45, 0.60, 0.75, 0.90, 1.00, 0.95, 0.70, 0.20, -0.20, -0.40,
     -0.65, -0.50, -0.30, -0.10, 0.10, 0.35, 0.55, 0.80, 0.30, -0.05, -0.20,
     -0.30, -0.75, -0.60, -0.25,
     0.10, 0.30, 0.35, 0.15, -0.05, -0.02, 0.10, 0.12, 0.08, 0.02, -0.08,
     -0.10, 0.00, 0.02, 0.00, 0.03, 0.05, 0.12, 0.02, -0.10, -0.05, 0.03, 0.04, -0.04, 0.00, 0.10, -0.05, -0.06, -0.08, -0.15, -0.10, -0.08, -0.06, -0.05, -0.02, -0.03],
]

pai_nc4200 = [
    [0.02, 0.04, 0.06, 0.08, 0.12, 0.16, 0.18, 0.19, 0.19, 0.20,
     0.52, 0.58, 0.70, 0.10, -0.50, -1.38, -3.19, -1.23, -0.54, -0.20,
     0.00, 0.46, 0.23, 0.12, 0.30, 0.50, 0.56, 1.00, 0.40, -0.28, -0.12,
     -0.30, -2.73, -0.80, 0.30,
     0.56, 0.75, 0.65, 0.30, 0.08, -0.12, 0.17, 0.18, 0.10, 0.15, 0.14,
     0.10, 0.04, 0.12, 0.13, 0.15, 0.27, -0.02, 0.13, -0.12, -0.08, 0.07, 0.31, 0.08, 0.25, 0.12, 0.19, -0.25, 0.02, -0.65, -0.40, -0.31, -0.27, -0.22, -0.10, -0.12],
]

pai_pai = [
    [0.00, 0.02, 0.00, 0.05, 0.15, 0.10, 0.05, 0.00, 0.10, 0.30,
     0.60, 0.85, 1.00, 0.90, 0.80, -0.20, -2.00, -1.00, -0.80, -0.70,
     -0.85, -0.40, 0.00, 0.20, 0.35, 0.45, 0.55, 1.00, 0.40, -0.20, -0.40,
     -1.20, -2.80, -0.40, 0.20,
     0.40, 0.60, 0.20, -0.10, -0.10, 0.05, 0.35, 0.20, 0.10, 0.05, -0.05,
     -0.05, 0.05, 0.05, 0.08, 0.06, 0.05, 0.12, 0.00, -0.05, -0.05, 0.00, -0.02, -0.05, -0.04, 0.10, -0.03, -0.05, -0.06, -0.15, -0.10, -0.06, -0.04, -0.03, -0.03, -0.02],
    [0.02, 0.00, 0.03, 0.08, 0.20, 0.12, 0.08, 0.02, 0.12, 0.35,
     0.65, 0.90, 0.95, 1.00, 0.85, 0.00, -3.00, -1.20, -0.70, -0.55,
     -0.60, -0.30, 0.05, 0.25, 0.38, 0.50, 0.60, 0.95, 0.30, -0.30, -0.50,
     -1.40, -3.10, -0.60, 0.30,
     0.55, 0.70, 0.30, -0.05, -0.15, 0.02, 0.30, 0.25, 0.12, 0.03, -0.08,
     -0.06, 0.03, 0.04, 0.06, 0.05, 0.04, 0.15, -0.02, -0.08, -0.08, -0.02, -0.04, -0.06, -0.05, 0.12, -0.05, -0.08, -0.10, -0.30, -0.18, -0.10, -0.08, -0.06, -0.05, -0.05],
    [0.00, 0.03, 0.02, 0.06, 0.12, 0.18, 0.10, 0.05, 0.15, 0.25,
     0.50, 0.70, 0.85, 0.95, 1.00, 0.95, 0.40, -0.40, -0.80, -1.00,
     -1.54, -0.60, -0.10, 0.15, 0.38, 0.50, 0.55, 0.80, 0.50, 0.10, -0.30,
     -0.80, -2.20, -0.30, 1.00,
     0.60, 0.50, 0.25, 0.00, -0.05, 0.08, 0.30, 0.22, 0.12, 0.06, -0.02,
     0.00, 0.06, 0.08, 0.10, 0.08, 0.08, 0.10, 0.02, 0.10, 0.46, 0.20, 0.35, 0.73, 0.25, -0.80, -0.30, -0.40, -0.20, -0.70, -0.30, -0.15, -0.10, -0.08, -0.05, -0.10],
    [0.01, 0.02, 0.01, 0.05, 0.10, 0.25, 0.08, 0.03, 0.12, 0.22,
     0.45, 0.65, 0.80, 0.95, 1.00, 0.90, 0.60, 0.00, -0.60, -0.90,
     -1.20, -0.85, -0.30, 0.05, 0.30, 0.45, 0.55, 0.75, 0.55, 0.20, -0.10,
     -0.60, -1.50, -0.20, 0.80,
     0.70, 0.55, 0.30, 0.05, -0.02, 0.06, 0.25, 0.20, 0.15, 0.08, 0.00,
     0.02, 0.08, 0.10, 0.08, 0.10, 0.10, 0.15, 0.05, 0.05, 0.25, 0.10, 0.20, 0.45, 0.15, -0.50, -0.20, -0.30, -0.15, -0.50, -0.25, -0.12, -0.08, -0.06, -0.05, -0.08],
    [0.03, 0.01, 0.00, 0.05, 0.12, 0.08, 0.10, 0.02, 0.08, 0.28,
     0.62, 0.88, 0.98, 0.95, 0.75, -0.40, -1.50, -0.90, -0.75, -0.80,
     -0.70, -0.35, 0.02, 0.22, 0.36, 0.48, 0.58, 0.98, 0.35, -0.25, -0.45,
     -1.30, -2.50, -0.50, 0.25,
     0.50, 0.65, 0.25, -0.08, -0.12, 0.04, 0.32, 0.22, 0.11, 0.04, -0.06,
     -0.05, 0.04, 0.05, 0.07, 0.06, 0.05, 0.14, -0.01, -0.06, -0.06, -0.01, -0.03, -0.05, -0.04, 0.11, -0.04, -0.06, -0.08, -0.25, -0.14, -0.08, -0.06, -0.05, -0.04, -0.04],
    [0.00, 0.02, 0.02, 0.04, 0.08, 0.15, 0.06, 0.04, 0.14, 0.20,
     0.40, 0.60, 0.85, 1.00, 0.95, 0.70, 0.10, -0.50, -0.70, -0.75,
     -0.80, -0.60, -0.15, 0.10, 0.33, 0.48, 0.52, 0.70, 0.60, 0.25, 0.00,
     -0.40, -1.00, -0.10, 0.60,
     0.80, 0.60, 0.35, 0.08, 0.00, 0.06, 0.22, 0.18, 0.14, 0.07, 0.00,
     0.02, 0.06, 0.08, 0.06, 0.08, 0.06, 0.12, 0.04, 0.00, 0.15, 0.05, 0.10, 0.25, 0.05, -0.35, -0.15, -0.20, -0.10, -0.40, -0.20, -0.10, -0.06, -0.05, -0.04, -0.06],
]

# (true class, predicted class) -> spectra; empty cells have no samples
PANELS = {
    ("HYP", "HYP"): hyp_hyp,
    ("HYP", "NC16862"): [],
    ("HYP", "NC4200"): hyp_nc4200,
    ("HYP", "PAI"): hyp_pai,
    ("NC16862", "HYP"): nc16862_hyp,
    ("NC16862", "NC16862"): nc16862_nc16862,
    ("NC16862", "NC4200"): nc16862_nc4200,
    ("NC16862", "PAI"): [],
    ("NC4200", "HYP"): nc4200_hyp,
    ("NC4200", "NC16862"): nc4200_nc16862,
    ("NC4200", "NC4200"): nc4200_nc4200,
    ("NC4200", "PAI"): nc4200_pai,
    ("PAI", "HYP"): pai_hyp,
    ("PAI", "NC16862"): [],
    ("PAI", "NC4200"): pai_nc4200,
    ("PAI", "PAI"): pai_pai,
}

for key, curves in PANELS.items():
    for k, spectrum in enumerate(curves):
        if len(spectrum) != len(WAVENUMBER):
            raise ValueError(f"{key} spectrum {k}: {len(spectrum)} values")

# ---- figure ---------------------------------------------------------------
W, H = 1225, 915
COL_PX = [127, 394, 661, 929, 1196]
ROW_PX = [36, 237, 437, 638, 838]
FONT = "DejaVu Sans"

CORRECT = dict(color="rgba(0,0,255,0.38)", width=1.3)
WRONG = dict(color="rgba(255,0,0,0.48)", width=1)

fig = make_subplots(rows=4, cols=4)

for r, true_cls in enumerate(CLASSES):
    for c, pred_cls in enumerate(CLASSES):
        line_style = CORRECT if r == c else WRONG
        curves = PANELS[(true_cls, pred_cls)]
        if not curves:
            # keep the frame and ticks of a cell without samples
            fig.add_trace(
                go.Scatter(x=[None], y=[None], mode="lines",
                           showlegend=False, hoverinfo="skip"),
                row=r + 1, col=c + 1,
            )
        for spectrum in curves:
            fig.add_trace(
                go.Scatter(
                    x=WAVENUMBER, y=spectrum, mode="lines",
                    line=line_style,
                    showlegend=False, hoverinfo="skip",
                ),
                row=r + 1, col=c + 1,
            )

axis_common = dict(
    showline=True, linecolor="black", linewidth=1, mirror=True,
    ticks="outside", ticklen=4, tickwidth=1, tickcolor="black",
    showgrid=False, zeroline=False,
    tickfont=dict(family=FONT, size=15, color="black"),
)

for r in range(4):
    for c in range(4):
        n = r * 4 + c + 1
        xa = "xaxis" if n == 1 else f"xaxis{n}"
        ya = "yaxis" if n == 1 else f"yaxis{n}"
        fig.layout[xa].update(
            domain=[COL_PX[c] / W, COL_PX[c + 1] / W],
            range=[855, 1845], tickvals=X_TICKS,
            showticklabels=(r == 3), **axis_common,
        )
        fig.layout[ya].update(
            domain=[1 - ROW_PX[r + 1] / H, 1 - ROW_PX[r] / H],
            range=[-3.28, 1.30], tickvals=Y_TICKS,
            showticklabels=(c == 0), **axis_common,
        )

annotations = []
for c, name in enumerate(CLASSES):
    annotations.append(dict(
        text=name, x=(COL_PX[c] + COL_PX[c + 1]) / 2 / W, y=1 - 21 / H,
        xref="paper", yref="paper", showarrow=False,
        xanchor="center", yanchor="middle",
        font=dict(family=FONT, size=22, color="black"),
    ))
for r, name in enumerate(CLASSES):
    annotations.append(dict(
        text=name, x=1211 / W, y=1 - (ROW_PX[r] + ROW_PX[r + 1]) / 2 / H,
        xref="paper", yref="paper", showarrow=False, textangle=90,
        xanchor="center", yanchor="middle",
        font=dict(family=FONT, size=22, color="black"),
    ))
annotations.append(dict(
    text="Wavenumber [1/cm]", x=643 / W, y=1 - 901 / H,
    xref="paper", yref="paper", showarrow=False,
    xanchor="center", yanchor="middle",
    font=dict(family=FONT, size=26, color="black"),
))
annotations.append(dict(
    text="Normalized first derivative data", x=22 / W, y=1 - 432 / H,
    xref="paper", yref="paper", showarrow=False, textangle=-90,
    xanchor="center", yanchor="middle",
    font=dict(family=FONT, size=26, color="black"),
))

fig.update_layout(
    width=W, height=H,
    margin=dict(l=0, r=0, t=0, b=0),
    paper_bgcolor="white", plot_bgcolor="white",
    font=dict(family=FONT, color="black"),
    annotations=annotations,
)

fig.write_html("out.html")
